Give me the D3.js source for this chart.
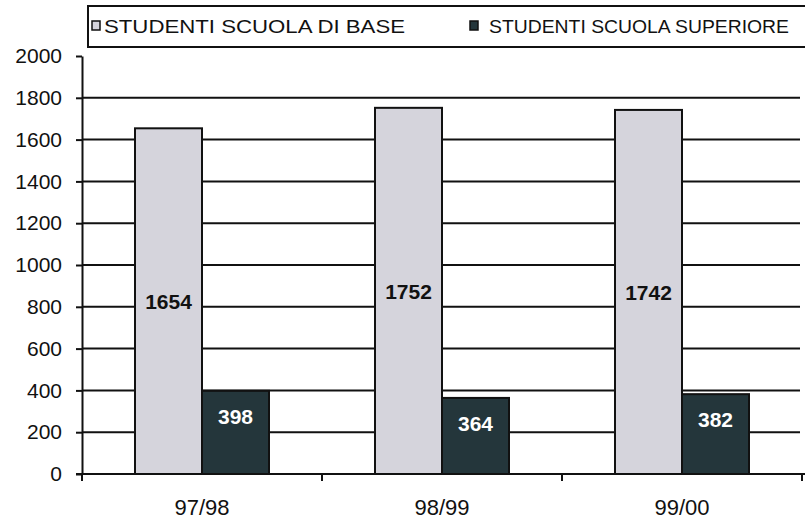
<!DOCTYPE html>
<html><head><meta charset="utf-8">
<script src="https://cdn.jsdelivr.net/npm/d3@7"></script>
<style>body{margin:0;background:#fff}svg{display:block}text{font-family:Arial,"Liberation Sans",sans-serif}</style>
</head><body><svg id="c" width="805" height="521"></svg>
<script>
const categories = ["97/98","98/99","99/00"];
const seriesNames = ["STUDENTI SCUOLA DI BASE","STUDENTI SCUOLA SUPERIORE"];
const base = [1654,1752,1742];
const superiore = [398,364,382];
const yTicks = [0,200,400,600,800,1000,1200,1400,1600,1800,2000];
const colors = ["#d5d4dc","#24363b"];

const svg = d3.select("#c");
const m = {l:82, r:802, t:56, b:474};
const x = d3.scaleBand().domain(categories).range([m.l, m.r]).paddingInner(0).paddingOuter(0);
const y = d3.scaleLinear().domain([0,2000]).range([m.b, m.t]);
const bw = 67;

// gridlines
svg.append("g").selectAll("line").data(yTicks.filter(d=>d>0 && d<2000)).join("line")
  .attr("x1", m.l).attr("x2", m.r-2).attr("y1", d=>y(d)).attr("y2", d=>y(d))
  .attr("stroke","#111").attr("stroke-width",2);

// bars
const data = [base, superiore];
data.forEach((vals, si) => {
  svg.append("g").selectAll("rect").data(vals).join("rect")
    .attr("x", (d,i)=> x(categories[i]) + x.bandwidth()/2 - bw + si*bw)
    .attr("y", d=>y(d)).attr("width", bw).attr("height", d=>y(0)-y(d))
    .attr("fill", colors[si]).attr("stroke","#111").attr("stroke-width",2);
});

// value labels
svg.append("g").selectAll("text").data(base).join("text")
  .attr("x",(d,i)=> x(categories[i]) + x.bandwidth()/2 - bw/2)
  .attr("y", d=> (y(d)+y(0))/2 + 8)
  .attr("text-anchor","middle").attr("font-weight","bold").attr("font-size",21)
  .attr("fill","#111").text(d=>d);
svg.append("g").selectAll("text").data(superiore).join("text")
  .attr("x",(d,i)=> x(categories[i]) + x.bandwidth()/2 + bw/2)
  .attr("y", d=> y(d) + 33)
  .attr("text-anchor","middle").attr("font-weight","bold").attr("font-size",21)
  .attr("fill","#fff").text(d=>d);

// y axis
const ya = svg.append("g").attr("transform",`translate(${m.l},0)`)
  .call(d3.axisLeft(y).tickValues(yTicks).tickFormat(d3.format("d")).tickSize(6).tickPadding(14).tickSizeOuter(0));
ya.select(".domain").attr("stroke","#111").attr("stroke-width",2);
ya.selectAll(".tick line").attr("stroke","#111").attr("stroke-width",2);
ya.selectAll("text").attr("font-size",21).attr("fill","#111").attr("font-family","Arial, 'Liberation Sans', sans-serif");

// x axis
const xa = svg.append("g").attr("transform",`translate(0,${m.b})`);
xa.append("line").attr("x1",m.l-6).attr("x2",805).attr("y1",0).attr("y2",0).attr("stroke","#111").attr("stroke-width",2);
const bounds = categories.map(c=>x(c)).concat([x(categories[categories.length-1])+x.bandwidth()]);
xa.selectAll("line.t").data(bounds).join("line").attr("class","t")
  .attr("x1",d=>d).attr("x2",d=>d).attr("y1",0).attr("y2",7).attr("stroke","#111").attr("stroke-width",2);
xa.selectAll("text").data(categories).join("text")
  .attr("x",c=>x(c)+x.bandwidth()/2).attr("y",41)
  .attr("text-anchor","middle").attr("font-size",22).attr("fill","#111").text(c=>c);

// legend
const lg = svg.append("g");
lg.append("rect").attr("x",88).attr("y",6).attr("width",730).attr("height",41)
  .attr("fill","#fff").attr("stroke","#111").attr("stroke-width",2);
const lx = [92, 470], tx = [104, 489], tw = [301, 300];
seriesNames.forEach((n,i)=>{
  lg.append("rect").attr("x",lx[i]).attr("y",21).attr("width",8).attr("height",9)
    .attr("fill",colors[i]).attr("stroke","#111").attr("stroke-width",1.5);
  lg.append("text").attr("x",tx[i]).attr("y",33).attr("font-size",18).attr("fill","#111")
    .attr("textLength",tw[i]).attr("lengthAdjust","spacingAndGlyphs").text(n);
});
</script></body></html>
